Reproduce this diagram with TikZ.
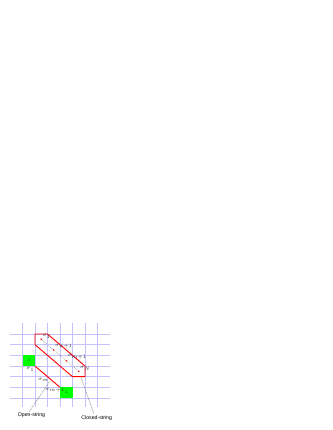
\documentclass[tikz,border=0pt]{standalone}
\usepackage{fontspec}
\setmainfont{Liberation Sans}
\definecolor{gridblue}{RGB}{195,195,255}
\definecolor{plaqgreen}{RGB}{0,255,0}
\begin{document}
\begin{tikzpicture}[x=1pt,y=-1pt,
  gridline/.style={draw=gridblue,line width=0.6pt},
  redline/.style={draw=red,line width=0.9pt,line join=miter},
  greenbox/.style={fill=plaqgreen,minimum width=12.5pt,minimum height=10.667pt,inner sep=0pt,font=\fontsize{3.5}{4}\selectfont,text=black!80},
  rdot/.style={circle,fill=red,inner sep=0pt,minimum size=1.8pt},
  tinylab/.style={font=\fontsize{3.8}{4}\selectfont,inner sep=0.3pt,text=black!80},
  pointer/.style={draw=black!55,line width=0.45pt,dash pattern=on 1pt off 0.8pt},
  caption/.style={font=\fontsize{5.2}{6}\selectfont,inner sep=0pt}]
\useasboundingbox (0,0) rectangle (332,430);
\fill[white] (0,0) rectangle (332,430);
\begin{scope}[shift={(22.5pt,-334pt)},x=12.5pt,y=-10.667pt]
  % grid
  \foreach \i in {0,...,6} {
    \draw[gridline] (\i,-1.03) -- (\i,6.85);
    \draw[gridline] (-1,\i) -- (7,\i);
  }
  % green plaquettes
  \node[greenbox] (g1) at (0.5,2.5) {-1};
  \node[greenbox] (g2) at (3.5,5.5) {-1};
  % closed string
  \draw[redline] (1,0) -- (2,0) -- (5,3) -- (5,4) -- (4,4) -- (1,1) -- cycle;
  % open string
  \draw[redline] (g1.south east) -- (g2.north west);
  % spins on closed string
  \node[rdot] (d1) at (1.5,0.5) {};
  \node[rdot] (d2) at (2.5,1.5) {};
  \node[rdot] (d3) at (3.5,2.5) {};
  \node[rdot] (d4) at (4.5,3.5) {};
  \draw[pointer,draw=black!40] (d1) -- (d2) -- (d3) -- (d4);
  \node[tinylab,anchor=south west] (l1) at (d1.north east) {$\sigma_1$};
  \node[tinylab,anchor=south west] (l2) at (d2.north east) {$\sigma_{n+1}$};
  \node[tinylab,anchor=south west] (l3) at (d3.north east) {$\sigma_{m+1}$};
  \node[tinylab,anchor=south west] (l4) at (d4.north east) {$\sigma_{N}$};
  % spins on open string
  \node[tinylab] (o1) at (0.62,3.3) {$\sigma_1$};
  \node[tinylab] (o2) at (1.68,4.3) {$\sigma_{m}$};
  \node[tinylab] (o3) at (2.6,5.27) {$\sigma_{m+1}$};
  % pointer ends
  \coordinate (pOpen) at (2.2,4.4);
  \coordinate (pClosed) at (4.68,4.08);
\end{scope}
\node[caption] (open) at (31.5,415) {Open-string};
\node[caption] (closed) at (96.7,418) {Closed-string};
\draw[pointer] (open.north) ++(-2,-1) coordinate (oa) -- (pOpen);
\draw[pointer] (closed.north) ++(-3,-2) coordinate (ca) -- (pClosed);
\end{tikzpicture}
\end{document}
